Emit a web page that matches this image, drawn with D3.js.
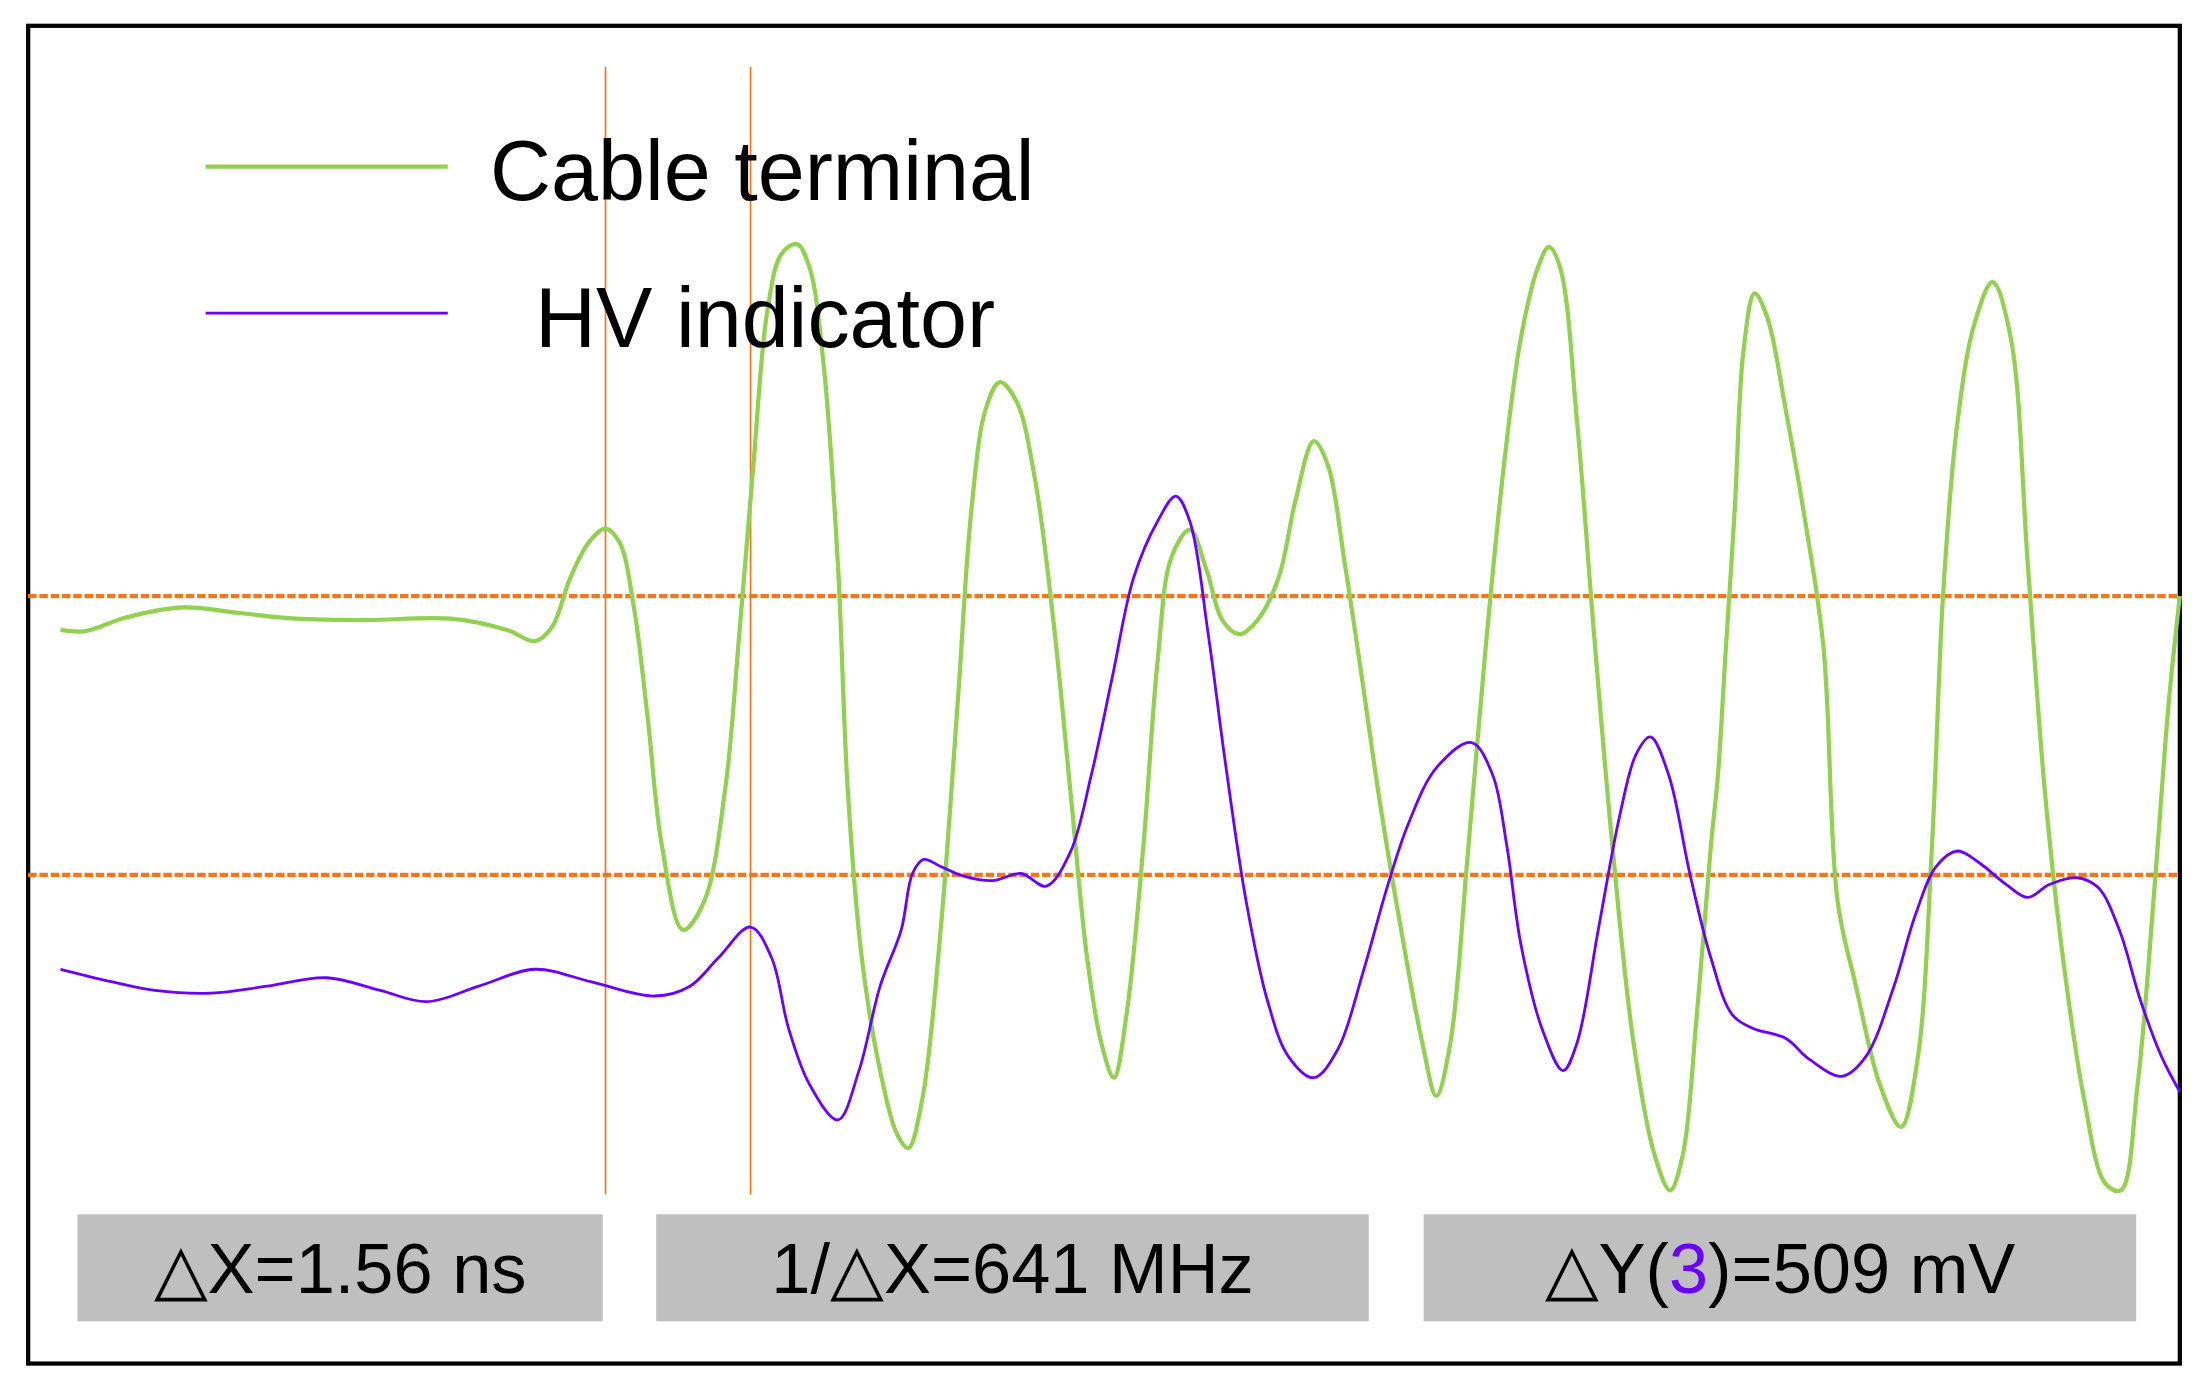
<!DOCTYPE html>
<html>
<head>
<meta charset="utf-8">
<script src="https://cdn.jsdelivr.net/npm/d3@7"></script>
<style>
  body { margin: 0; background: #fff; }
  svg { display: block; font-family: "Liberation Sans", Arial, sans-serif; }
</style>
</head>
<body>
<div id="chart"></div>
<script>
// sample index (1 sample = 15.15 ps) and level in counts (1 count = 2.571 mV)
const greenT = [0,17,47,87,127,167,217,277,317,337,349,362,375,387,397,407,417,427,442,457,472,482,492,502,512,523,532,542,552,559,569,582,594,602,612,625,637,647,657,667,679,692,705,717,729,739,748,757,769,779,789,802,814,825,837,850,865,877,890,900,912,924,937,952,967,977,987,999,1012,1025,1037,1049,1057,1065,1077,1089,1102,1117,1132,1143,1152,1162,1172,1177,1182,1189,1195,1203,1212,1225,1239,1252,1262,1275,1292,1307,1319,1329,1337,1347,1359,1372,1385,1397,1409,1422,1437,1452,1463,1475,1487,1497,1505];
const greenV = [174,173,183,190,186,182,181,182,174,166,176,211,236,246,236,191,111,21,-39,-19,61,171,291,401,441,448,431,361,221,61,-59,-139,-184,-194,-159,-39,121,261,331,350,336,281,181,61,-59,-119,-144,-99,21,151,226,245,216,181,171,181,211,266,308,291,221,141,51,-39,-119,-157,-119,11,161,291,381,431,446,431,321,171,21,-119,-199,-224,-199,-99,21,71,151,261,371,413,396,331,251,161,-19,-79,-149,-179,-129,21,201,321,391,421,381,221,61,-59,-159,-219,-224,-149,-9,121,198];
const purpleT = [0,37,67,107,147,189,227,260,297,337,377,422,447,467,490,505,517,532,552,567,582,597,605,613,625,642,662,682,700,717,732,747,762,779,792,802,815,827,842,857,872,890,907,925,942,957,977,1002,1017,1027,1037,1052,1067,1077,1092,1107,1119,1129,1142,1157,1172,1187,1202,1225,1242,1265,1282,1302,1317,1332,1347,1362,1382,1397,1412,1432,1447,1462,1477,1492,1505];
const purpleV = [-67,-76,-82,-84,-79,-73,-82,-90,-79,-67,-76,-86,-79,-59,-37,-59,-109,-149,-174,-139,-79,-39,1,11,6,-1,-4,1,-8,16,71,141,211,251,269,251,171,81,-19,-89,-129,-144,-124,-69,-9,36,76,94,71,21,-49,-109,-139,-119,-39,41,86,98,71,1,-59,-99,-109,-116,-131,-143,-129,-79,-29,6,17,9,-7,-16,-7,-2,-9,-39,-89,-129,-154];
const legendLabels = ["Cable terminal", "HV indicator"];
const cursorT = [387, 490];          // vertical cursor positions (samples)
const cursorV = [198, 0];            // horizontal cursor levels (counts)
const readouts = ["\u25B3X=1.56 ns", "1/\u25B3X=641 MHz", "\u25B3Y(3)=509 mV"];

const W = 1568, H = 990;
const svg = d3.select("#chart").append("svg")
  .attr("width", 2208).attr("height", 1395)
  .attr("viewBox", `0 0 ${W} ${H}`);

const x = d3.scaleLinear().domain([0, 1505]).range([43, 1548]);
const y = d3.scaleLinear().domain([0, 198]).range([621, 423]);

// frame
svg.append("rect").attr("x", 20).attr("y", 18).attr("width", 1528).attr("height", 950)
  .attr("fill", "none").attr("stroke", "#000").attr("stroke-width", 3);

// horizontal cursors
svg.selectAll(".hc").data(cursorV).enter().append("line")
  .attr("x1", 20).attr("x2", 1548)
  .attr("y1", d => y(d)).attr("y2", d => y(d))
  .attr("stroke", "#f07818").attr("stroke-width", 3).attr("stroke-dasharray", "6 2");

// vertical cursors
svg.selectAll(".vc").data(cursorT).enter().append("line")
  .attr("x1", d => x(d)).attr("x2", d => x(d))
  .attr("y1", 47).attr("y2", 848)
  .attr("stroke", "#f07818").attr("stroke-width", 1.2);

const line = d3.line().curve(d3.curveCatmullRom.alpha(0.5))
  .x(d => x(d[0])).y(d => y(d[1]));

svg.append("path").datum(greenT.map((t, i) => [t, greenV[i]]))
  .attr("d", line).attr("fill", "none").attr("stroke", "#92d050").attr("stroke-width", 3);
svg.append("path").datum(purpleT.map((t, i) => [t, purpleV[i]]))
  .attr("d", line).attr("fill", "none").attr("stroke", "#6a00ff").attr("stroke-width", 2);

// legend
const legColors = ["#92d050", "#6a00ff"], legW = [3, 2], legX = [348, 380];
legendLabels.forEach((lab, i) => {
  const ly = 118 + i * 104;
  svg.append("line").attr("x1", 146).attr("x2", 318).attr("y1", ly).attr("y2", ly)
    .attr("stroke", legColors[i]).attr("stroke-width", legW[i]);
  svg.append("text").attr("x", legX[i]).attr("y", ly + 24).attr("font-size", 60).text(lab);
});

// readout boxes
const boxes = [[55, 428], [466, 972], [1011, 1517]];
boxes.forEach((b, i) => {
  svg.append("rect").attr("x", b[0]).attr("y", 862).attr("width", b[1] - b[0]).attr("height", 76)
    .attr("fill", "#bfbfbf");
  const t = svg.append("text").attr("x", (b[0] + b[1]) / 2).attr("y", 918)
    .attr("text-anchor", "middle").attr("font-size", 50);
  if (i === 2) {
    t.append("tspan").text("\u25B3Y(");
    t.append("tspan").attr("fill", "#6a00ff").text("3");
    t.append("tspan").text(")=509 mV");
  } else t.text(readouts[i]);
});
</script>
</body>
</html>
